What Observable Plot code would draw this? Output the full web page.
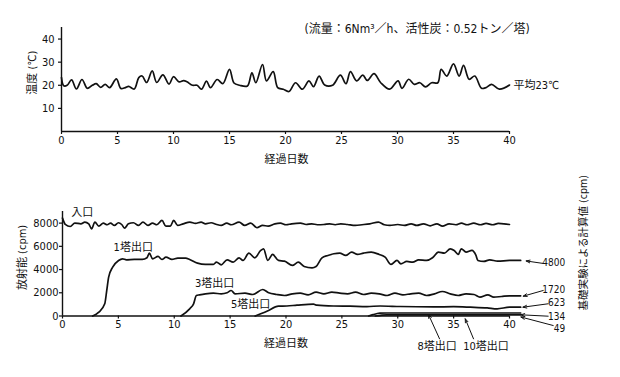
<!DOCTYPE html>
<html>
<head>
<meta charset="utf-8">
<script src="https://cdn.jsdelivr.net/npm/d3@7"></script>
<script src="https://cdn.jsdelivr.net/npm/@observablehq/plot@0.6"></script>
<style>
  html, body { margin: 0; padding: 0; background: #fff; }
  #wrap { position: relative; width: 620px; height: 377px; overflow: hidden; background: #fff; }
  #top, #bottom { position: absolute; left: 0; }
  #top { top: 0; }
  #bottom { top: 175px; }
</style>
</head>
<body>
<div id="wrap"><div id="top"></div><div id="bottom"></div></div>
<script>
// ---------- data ----------
const dayTicks = [0, 5, 10, 15, 20, 25, 30, 35, 40];
const tempTicks = [10, 20, 30, 40];
const cpmTicks = [0, 2000, 4000, 6000, 8000];

// temperature [day, °C]
const temperature = [
  [0,23.3],[0.2,19.8],[0.5,20.0],[0.9,22.3],[1.33,18.4],[1.83,22.5],[2.3,18.7],[2.75,20.0],
  [3.1,20.7],[3.5,19.1],[3.9,20.4],[4.3,19.0],[4.9,22.8],[5.3,18.6],[5.7,19.0],[6.0,19.5],
  [6.5,18.4],[6.9,23.3],[7.2,24.0],[7.6,21.2],[8.1,26.2],[8.5,21.2],[9.05,24.5],[9.6,20.5],
  [10.0,23.7],[10.5,21.5],[10.9,22.0],[11.2,21.5],[11.7,20.0],[12.1,20.0],[12.5,18.3],[12.95,21.8],
  [13.3,19.0],[13.9,22.5],[14.4,20.7],[15.0,26.9],[15.4,21.0],[15.9,20.0],[16.6,19.7],[17.0,25.4],
  [17.35,21.1],[17.95,29.0],[18.3,21.9],[18.9,25.9],[19.3,19.0],[19.8,18.3],[20.3,17.3],[20.9,21.1],
  [21.5,18.3],[22.1,21.9],[22.5,19.4],[23.0,24.0],[23.5,20.1],[24.2,20.0],[24.9,24.4],[25.4,20.7],
  [25.8,25.9],[26.35,21.9],[26.9,24.4],[27.3,22.1],[27.9,25.0],[28.5,21.1],[29.3,18.3],[30.05,21.9],
  [30.4,18.7],[31.0,22.6],[31.5,20.4],[32.0,21.1],[32.5,19.3],[33.05,21.1],[33.6,21.1],[33.9,26.9],
  [34.4,24.0],[35.0,29.3],[35.5,24.0],[35.9,28.6],[36.4,22.6],[36.9,24.0],[37.5,18.7],[37.9,19.0],
  [38.4,20.4],[39.1,18.3],[40.0,20.1]
];

// radioactivity [day, cpm]
const inlet = [
  [0,8430],[0.25,7890],[0.7,7710],[1.1,8000],[1.65,7940],[2.0,8090],[2.35,7940],[2.6,7510],[2.9,8090],
  [3.25,7740],[3.65,8000],[4.0,7860],[4.3,8000],[4.65,7800],[5.0,8030],[5.3,7880],[5.55,7570],[5.9,7940],
  [6.35,8030],[6.8,7800],[7.2,8090],[7.65,7800],[8.05,8000],[8.45,7860],[8.9,8230],[9.25,7740],[9.65,7740],
  [9.95,8230],[10.3,7800],[10.8,7940],[11.4,8090],[11.9,7970],[12.4,8090],[12.8,7940],[13.3,8030],[13.8,7880],
  [14.2,7800],[14.7,8000],[15.1,7860],[15.8,8090],[16.3,7800],[16.85,8000],[17.4,7600],[17.9,7800],[18.4,7740],
  [19.0,7940],[19.5,8000],[20.0,7860],[20.5,7940],[21.3,8000],[21.8,7880],[22.3,7940],[22.8,7860],[23.4,7880],
  [23.9,7940],[24.4,7860],[24.9,7940],[25.5,7880],[26.2,7800],[26.8,7860],[27.5,7940],[28.27,8090],[28.8,7860],
  [29.3,7800],[30.0,7880],[30.6,7800],[31.2,7940],[31.7,7800],[32.3,7940],[32.9,7770],[33.5,7940],[34.0,7740],
  [34.6,7940],[35.2,7860],[35.7,8000],[36.2,7860],[36.8,8000],[37.4,7860],[37.9,7970],[38.5,7860],[39.0,7970],
  [39.5,7940],[40.0,7880]
];
const outlet1 = [
  [2.7,0],[3.25,330],[3.78,1049],[3.96,2198],[4.13,3347],[4.49,4209],[5.02,4784],[5.37,4927],[5.72,4841],
  [6.43,4870],[7.14,4870],[7.56,5013],[7.77,5416],[8.06,4927],[8.55,5128],[8.9,4870],[9.26,5071],[9.79,4870],
  [10.32,4985],[11.02,4985],[11.38,4870],[12.08,4554],[12.79,4439],[13.5,4439],[13.78,4640],[14.2,4410],
  [14.73,4841],[15.27,4640],[15.8,5013],[16.15,4784],[16.68,5416],[17.21,5013],[17.74,5646],[17.99,5789],
  [18.37,4784],[18.8,5301],[19.33,4784],[19.86,4726],[20.57,4353],[21.1,4640],[21.63,4266],[22.33,4152],
  [22.69,4266],[23.22,5013],[23.75,5214],[24.28,5358],[24.81,5416],[25.34,5214],[25.87,5502],[26.4,5301],
  [26.93,5416],[27.63,5502],[28.34,5301],[28.87,5071],[29.4,4439],[29.93,4784],[30.28,4496],[30.81,4697],
  [31.34,4640],[31.87,4841],[32.58,4784],[33.11,5013],[33.64,5502],[34.17,5416],[34.7,5789],[35.05,5646],
  [35.41,5301],[35.69,5789],[36.11,5502],[36.64,5646],[37.0,5214],[37.17,4784],[37.7,4697],[38.23,4841],
  [38.94,4726],[40.0,4784],[41.0,4784]
];
const outlet3 = [
  [10.6,0],[11.38,618],[11.73,1049],[11.98,1767],[12.26,1824],[12.79,1911],[13.5,1968],[14.2,1911],[14.73,1997],
  [15.09,2198],[15.44,1911],[16.33,1968],[17.03,1853],[17.92,2284],[18.45,1997],[19.15,1853],[19.86,1767],
  [20.57,1911],[21.27,1968],[21.98,1824],[22.69,2054],[23.39,1911],[24.1,2054],[24.81,1968],[25.51,1911],
  [26.22,2054],[26.93,1853],[27.63,1968],[28.34,1911],[29.05,1767],[29.75,1968],[30.46,1824],[31.17,1911],
  [31.87,1968],[32.58,1767],[33.29,1911],[33.99,2112],[34.7,1911],[35.41,1767],[36.11,1911],[36.82,1853],
  [37.35,1623],[38.06,1824],[38.59,1623],[39.29,1681],[40.0,1738],[41.0,1738]
];
const outlet5 = [
  [17.24,0],[18.29,414],[19.33,845],[20.08,862],[20.98,931],[22.46,1017],[22.76,931],[24.25,862],[25.74,845],
  [27.24,816],[28.43,862],[30.22,816],[33.2,787],[35.0,800],[36.5,760],[38.0,700],[38.9,620],[40.0,760],[41.0,760]
];
const outlet8 = [[27.4,0],[27.8,120],[28.4,241],[29.0,260],[41.0,260]];
const outlet10 = [[28.0,0],[29.0,100],[41.0,100]];

const calcLabels = ["4800", "1720", "623", "134", "49"];

// ---------- annotations (data coordinates) ----------
const topNotes = [
  {t: "(流量：6Nm³／h、活性炭：0.52トン／塔)", x: 21.7, y: 44.4, a: "start", r: 0, s: 12},
  {t: "平均23℃", x: 40.36, y: 19.85, a: "start", r: 0, s: 11},
  {t: "温度 (℃)", x: -2.59, y: 25.46, a: "middle", r: -90, s: 11},
  {t: "経過日数", x: 20.09, y: -12.08, a: "middle", r: 0, s: 11}
];
const bottomNotes = [
  {t: "入口", x: 1.76, y: 8922, a: "middle", r: 0, s: 11},
  {t: "1塔出口", x: 6.33, y: 5879, a: "middle", r: 0, s: 11},
  {t: "3塔出口", x: 13.62, y: 2828, a: "middle", r: 0, s: 11},
  {t: "5塔出口", x: 16.84, y: 1009, a: "middle", r: 0, s: 11},
  {t: calcLabels[0], x: 44.98, y: 4612, a: "end", r: 0, s: 10},
  {t: calcLabels[1], x: 44.98, y: 2230, a: "end", r: 0, s: 10},
  {t: calcLabels[2], x: 44.98, y: 1103, a: "end", r: 0, s: 10},
  {t: calcLabels[3], x: 44.98, y: -40, a: "end", r: 0, s: 10},
  {t: calcLabels[4], x: 44.98, y: -1120, a: "end", r: 0, s: 10},
  {t: "8塔出口", x: 33.53, y: -2586, a: "middle", r: 0, s: 11},
  {t: "10塔出口", x: 37.9, y: -2586, a: "middle", r: 0, s: 11},
  {t: "経過日数", x: 20.0, y: -2345, a: "middle", r: 0, s: 11},
  {t: "放射能 (cpm)", x: -3.61, y: 5043, a: "middle", r: -90, s: 11},
  {t: "基礎実験による計算値 (cpm)", x: 46.6, y: 6300, a: "middle", r: -90, s: 10.5}
];
const pointers = [
  {x1: 43.02, y1: 4526, x2: 41.49, y2: 4741},
  {x1: 43.02, y1: 2198, x2: 41.23, y2: 1707},
  {x1: 43.46, y1: 1052, x2: 41.2, y2: 759},
  {x1: 43.46, y1: -17, x2: 41.02, y2: 103},
  {x1: 43.91, y1: -819, x2: 41.02, y2: -86},
  {x1: 33.74, y1: -1965, x2: 32.75, y2: 129},
  {x1: 36.78, y1: -1965, x2: 36.04, y2: -241}
];

// ---------- drawing ----------
const FONT = `"Liberation Sans Narrow", "DejaVu Sans Condensed", "Noto Sans CJK JP", sans-serif`;
const INK = "#111";
const fmt = d3.format("d");

function noteMarks(notes) {
  return notes.map(n => Plot.text([n], {
    x: "x", y: "y", text: "t", textAnchor: n.a, rotate: n.r,
    fontSize: n.s, fill: INK, fontFamily: FONT
  }));
}
const px = d => d[0], py = d => d[1];

const topChart = Plot.plot({
  width: 620, height: 175,
  marginLeft: 61, marginRight: 111, marginTop: 27, marginBottom: 44,
  x: {domain: [0, 40]},
  y: {domain: [0, 45]},
  style: {fontFamily: FONT, fontSize: "11px", color: INK, background: "#fff"},
  marks: [
    Plot.axisX({ticks: dayTicks, tickFormat: fmt, tickSize: 3, tickPadding: 2, label: null, stroke: INK, strokeWidth: 1.2}),
    Plot.axisY({ticks: tempTicks, tickFormat: fmt, tickSize: 3, tickPadding: 4, label: null, stroke: INK, strokeWidth: 1.2}),
    Plot.ruleY([0], {stroke: INK, strokeWidth: 1.4}),
    Plot.ruleX([0], {stroke: INK, strokeWidth: 1.4}),
    Plot.line(temperature, {x: px, y: py, curve: "catmull-rom", stroke: INK, strokeWidth: 1.7}),
    ...noteMarks(topNotes)
  ]
});
document.getElementById("top").appendChild(topChart);

const series = [inlet, outlet1, outlet3, outlet5, outlet8, outlet10];
const bottomChart = Plot.plot({
  width: 620, height: 202,
  marginLeft: 62, marginRight: 111, marginTop: 36, marginBottom: 61.5,
  x: {domain: [0, 40]},
  y: {domain: [0, 9000]},
  style: {fontFamily: FONT, fontSize: "11px", color: INK, background: "#fff"},
  marks: [
    Plot.axisX({ticks: dayTicks, tickFormat: fmt, tickSize: 3, tickPadding: 1, label: null, stroke: INK, strokeWidth: 1.2}),
    Plot.axisY({ticks: cpmTicks, tickFormat: fmt, tickSize: 3, tickPadding: 1, label: null, stroke: INK, strokeWidth: 1.2}),
    Plot.ruleY([0], {stroke: INK, strokeWidth: 1.4}),
    Plot.ruleX([0], {stroke: INK, strokeWidth: 1.4}),
    ...series.map(s => Plot.line(s, {x: px, y: py, curve: "monotone-x", stroke: INK, strokeWidth: 1.7})),
    Plot.arrow(pointers, {x1: "x1", y1: "y1", x2: "x2", y2: "y2", stroke: INK, strokeWidth: 1, headLength: 6, headAngle: 40}),
    ...noteMarks(bottomNotes)
  ]
});
document.getElementById("bottom").appendChild(bottomChart);
</script>
</body>
</html>
